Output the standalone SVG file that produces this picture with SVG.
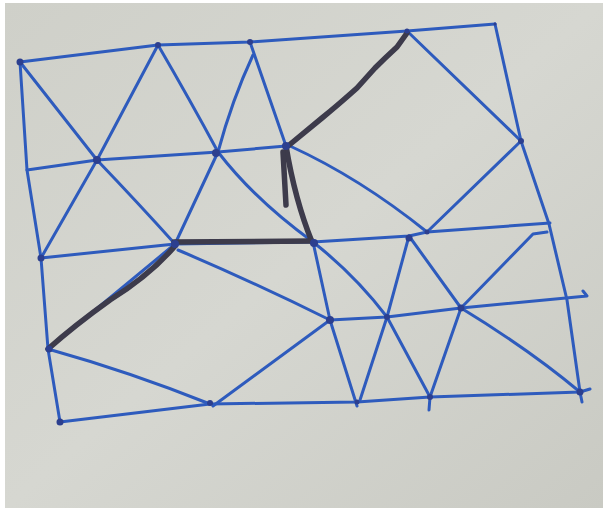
<svg xmlns="http://www.w3.org/2000/svg" width="603" height="508" viewBox="0 0 603 508">
<defs>
<linearGradient id="bg" x1="0" y1="0" x2="1" y2="1">
<stop offset="0" stop-color="#cfd0c9"/>
<stop offset="0.5" stop-color="#d6d7d1"/>
<stop offset="1" stop-color="#c9cac3"/>
</linearGradient>
<style>
.b{fill:none;stroke:#2e5bbd;stroke-width:3;stroke-linecap:round;stroke-linejoin:round}
.k{fill:none;stroke:#3d3b4b;stroke-width:5.5;stroke-linecap:round;stroke-linejoin:round}
.n{fill:#2c3f8f}
</style>
</defs>
<rect width="603" height="508" fill="#ffffff"/>
<rect x="5" y="3" width="598" height="505" fill="url(#bg)"/>
<g id="connectors">
<g id="blue-edges">
<polyline class="b" points="20,62 158,45 250,42 407,31 495,24"/>
<polyline class="b" points="495,24 521,141 549,224 567,300 580,392 582,402"/>
<polyline class="b" points="20,62 27,170 41,258 48,349 60,422"/>
<polyline class="b" points="27,170 97,160 218,152 286,146"/>
<polyline class="b" points="41,258 175,244 313,242 409,236 427,232 550,223"/>
<polyline class="b" points="330,320 387,317 461,308 587,296 583,291"/>
<polyline class="b" points="60,422 210,404 357,402 430,397 580,392 590,389"/>
<path class="b" d="M20,62 L97,160"/>
<path class="b" d="M158,45 L97,160"/>
<path class="b" d="M97,160 Q140,205 175,244"/>
<path class="b" d="M97,160 L41,258"/>
<path class="b" d="M158,45 Q190,100 218,152"/>
<path class="b" d="M253,55 Q232,100 218,152"/>
<path class="b" d="M250,42 L286,146"/>
<path class="b" d="M218,152 L175,244"/>
<path class="b" d="M218,152 Q255,200 313,242"/>
<path class="b" d="M290,146 Q360,178 427,232"/>
<path class="b" d="M407,31 L521,141"/>
<path class="b" d="M521,141 L427,232"/>
<path class="b" d="M175,244 L48,349"/>
<path class="b" d="M48,349 Q130,372 210,404"/>
<path class="b" d="M213,406 L330,320"/>
<path class="b" d="M178,250 Q260,285 330,320"/>
<path class="b" d="M313,242 L330,320 L357,406"/>
<path class="b" d="M313,242 Q355,275 387,317"/>
<path class="b" d="M409,236 L387,317"/>
<path class="b" d="M409,236 L461,308"/>
<path class="b" d="M387,317 L360,400"/>
<path class="b" d="M387,317 L430,397"/>
<path class="b" d="M461,308 L430,397 L429,410"/>
<path class="b" d="M461,308 Q530,350 580,392"/>
<path class="b" d="M461,308 L533,234 L547,232"/>
</g>
<g id="black-edges">
<path class="k" d="M407,33 L397,47 Q385,58 375,68 L357,88 Q338,105 322,118 L288,146"/>
<path class="k" d="M286,146 Q295,200 312,242"/>
<path class="k" d="M283,152 L286,205"/>
<path class="k" d="M174,242 L312,241"/>
<path class="k" d="M175,246 Q150,275 110,300 Q75,325 48,349"/>
</g>
</g>
<g id="nA"><circle class="n" cx="20" cy="62" r="3.5"/></g>
<g id="nB"><circle class="n" cx="158" cy="45" r="3"/></g>
<g id="nC"><circle class="n" cx="250" cy="42" r="3"/></g>
<g id="nI"><circle class="n" cx="407" cy="31" r="2.5"/></g>
<g id="nTR"><circle class="n" cx="495" cy="24" r="1.5"/></g>
<g id="nD"><circle class="n" cx="97" cy="160" r="4"/></g>
<g id="nE"><circle class="n" cx="216" cy="153" r="4"/></g>
<g id="nF"><circle class="n" cx="286" cy="146" r="4"/></g>
<g id="nJ"><circle class="n" cx="521" cy="141" r="3"/></g>
<g id="nG"><circle class="n" cx="41" cy="258" r="3.5"/></g>
<g id="nH"><circle class="n" cx="175" cy="244" r="4"/></g>
<g id="nL"><circle class="n" cx="314" cy="243" r="4"/></g>
<g id="nM"><circle class="n" cx="409" cy="238" r="3.5"/></g>
<g id="nK"><circle class="n" cx="427" cy="232" r="2.5"/></g>
<g id="nN"><circle class="n" cx="330" cy="320" r="4"/></g>
<g id="nO"><circle class="n" cx="387" cy="317" r="3"/></g>
<g id="nP"><circle class="n" cx="461" cy="308" r="3.5"/></g>
<g id="nT"><circle class="n" cx="49" cy="349" r="3.5"/></g>
<g id="nV"><circle class="n" cx="60" cy="422" r="3.5"/></g>
<g id="nU"><circle class="n" cx="210" cy="403" r="3"/></g>
<g id="nR"><circle class="n" cx="357" cy="402" r="2.5"/></g>
<g id="nS"><circle class="n" cx="430" cy="397" r="3"/></g>
<g id="nQ"><circle class="n" cx="580" cy="392" r="3.5"/></g>
</svg>
